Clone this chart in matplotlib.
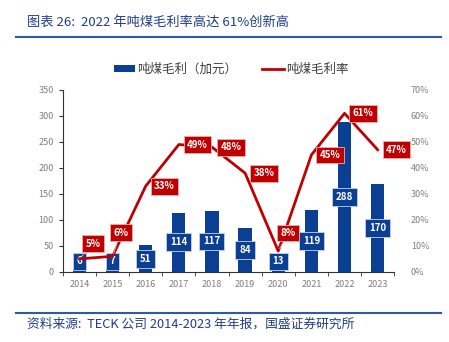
import matplotlib
matplotlib.use('Agg')
import numpy as np
from matplotlib import pyplot as plt
from matplotlib.lines import Line2D

plt.rcParams['font.family'] = ['Noto Sans CJK SC', 'DejaVu Sans']

years = ['2014', '2015', '2016', '2017', '2018', '2019', '2020', '2021', '2022', '2023']
profit = [6, 7, 51, 114, 117, 84, 13, 119, 288, 170]      # 吨煤毛利(加元)
margin = [5, 6, 33, 49, 48, 38, 8, 45, 61, 47]            # 吨煤毛利率 %
left_ticks = [0, 50, 100, 150, 200, 250, 300, 350]
right_ticks = [0, 10, 20, 30, 40, 50, 60, 70]

blue = '#0B3F94'
red = '#C00000'
grey = '#7F7F7F'

fig = plt.figure(figsize=(4.49, 3.42), dpi=100)
ax = fig.add_axes([0.140, 0.205, 0.738, 0.532])
ax2 = ax.twinx()

x = np.arange(len(years))
ax.bar(x, profit, width=0.4, color=blue, zorder=2)
for xi, v in zip(x, profit):
    ax.text(xi, max(v / 2, 20), str(v), ha='center', va='center', color='white',
            fontsize=7, fontweight='bold', zorder=5,
            bbox=dict(boxstyle='square,pad=0.4', fc=blue, ec='#C8D0E0', lw=0.6))

ax.set_xlim(-0.5, len(years) - 0.5)
ax.set_ylim(0, 350)
ax.set_yticks(left_ticks)
ax.set_xticks(x)
ax.set_xticklabels(years)
ax.set_xticks(np.arange(-0.5, len(years)), minor=True)
ax.tick_params(axis='x', which='major', length=0, colors=grey, labelsize=6.5, pad=6)
ax.tick_params(axis='x', which='minor', length=3, direction='out', color='#333333')
ax.tick_params(axis='y', length=3, colors=grey, labelsize=6.5, labelcolor=grey)
ax.tick_params(axis='y', color='#333333')
for s in ['top', 'right']:
    ax.spines[s].set_visible(False)
ax.spines['left'].set_color('#333333')
ax.spines['bottom'].set_color('#333333')

ax2.plot(x, margin, color=red, lw=2, zorder=3)
ax2.set_ylim(0, 70)
ax2.set_yticks(right_ticks)
ax2.set_yticklabels([f'{t}%' for t in right_ticks])
ax2.tick_params(axis='y', length=0, colors=grey, labelsize=6.5, pad=12)
for s in ['top', 'right', 'left', 'bottom']:
    ax2.spines[s].set_visible(False)

# 标签偏移 (points)
offsets = {0: (10, 11), 1: (6, 17), 6: (7, 13)}
for i, v in enumerate(margin):
    dx, dy = offsets.get(i, (13.5, 0))
    ax2.annotate(f'{v}%', (x[i], v), xytext=(dx, dy), textcoords='offset points',
                 ha='center', va='center',
                 color='white', fontsize=7, fontweight='bold', zorder=6,
                 bbox=dict(boxstyle='square,pad=0.35', fc=red, ec='#E8B0B0', lw=0.6),
                 arrowprops=dict(arrowstyle='-', color='#BBBBBB', lw=0.6) if i in offsets else None)

# 图例
handles = [plt.Rectangle((0, 0), 1, 1, fc=blue), Line2D([0], [0], color=red, lw=2)]
fig.legend(handles, ['吨煤毛利（加元）', '吨煤毛利率'], loc='center', bbox_to_anchor=(0.515, 0.797),
           ncol=2, frameon=False, fontsize=9, handlelength=1.7, handleheight=0.6,
           columnspacing=2.0, handletextpad=0.2, labelcolor='#404040')

# 标题与来源
fig.text(0.06, 0.935, '图表 26:  2022 年吨煤毛利率高达 61%创新高', fontsize=9.5, style='italic',
         color='#1F3D8C', va='center')
fig.add_artist(Line2D([0.036, 0.983], [0.892, 0.892], color='#2E5BA8', lw=1.5))
fig.add_artist(Line2D([0.036, 0.983], [0.085, 0.085], color='#2E5BA8', lw=1.5))
fig.text(0.06, 0.052, '资料来源:  TECK 公司 2014-2023 年年报，国盛证券研究所', fontsize=9.2,
         style='italic', color='#1F3D8C', va='center')

fig.savefig('out.png', dpi=100)
